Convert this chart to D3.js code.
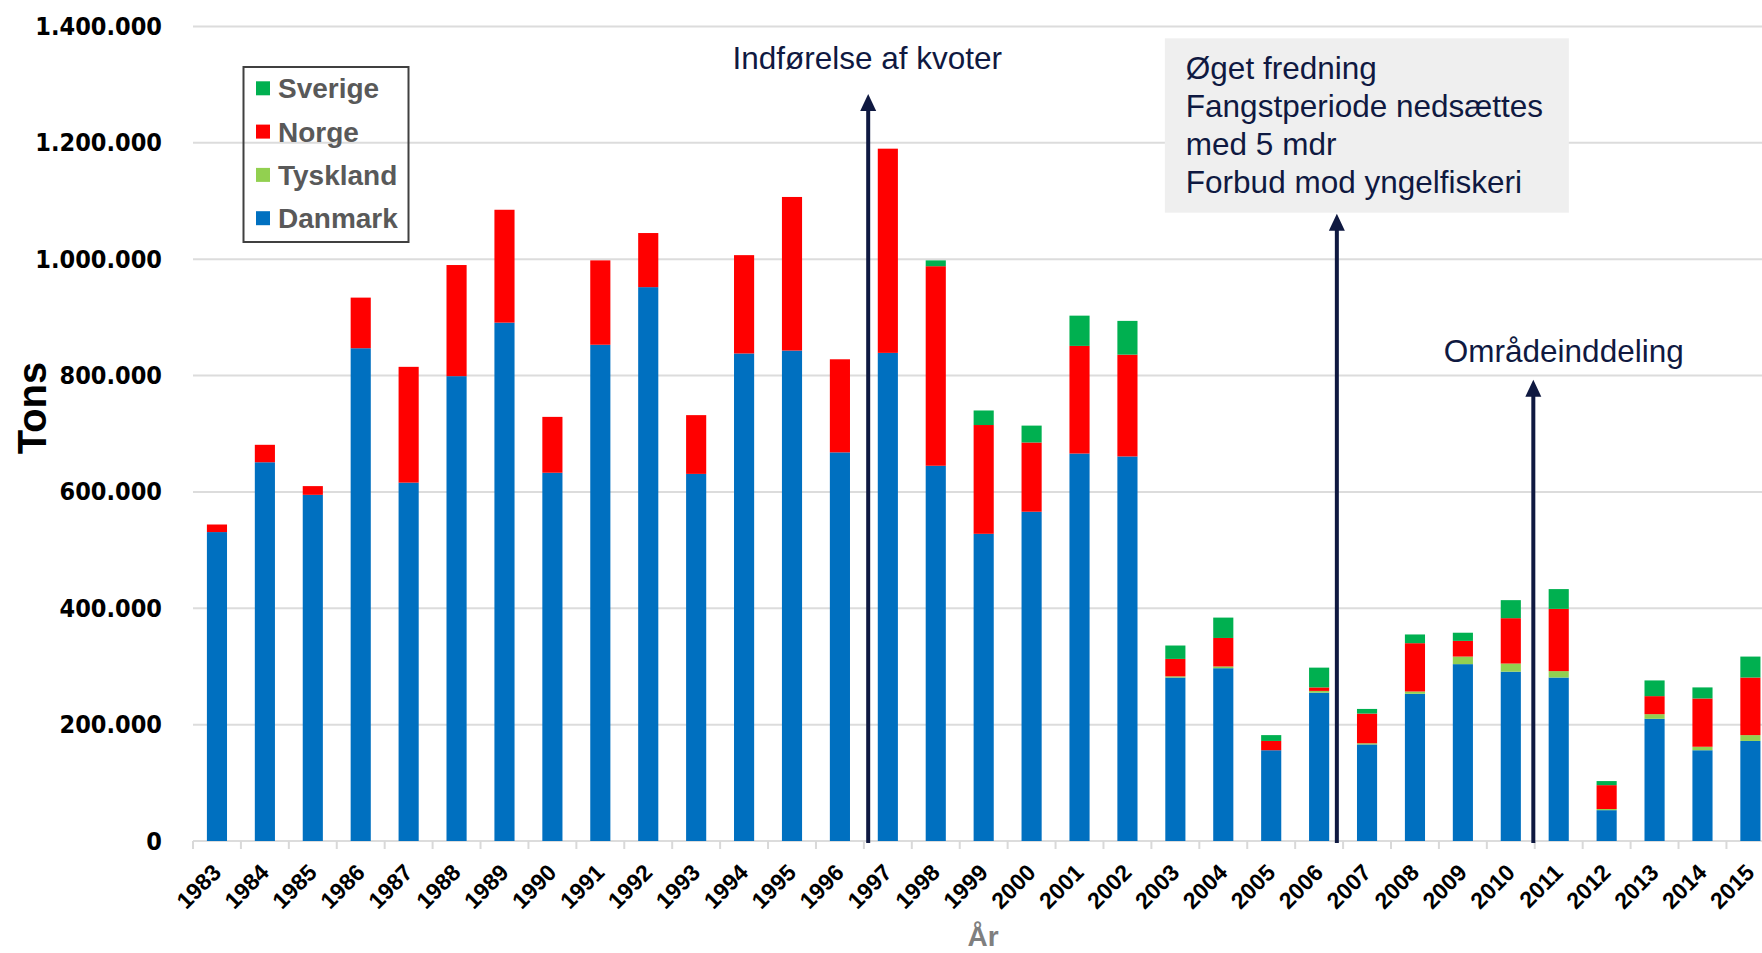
<!DOCTYPE html>
<html>
<head>
<meta charset="utf-8">
<script src="https://cdn.jsdelivr.net/npm/d3@7"></script>
<style>
  body { margin: 0; background: #fff; }
  svg { display: block; }
</style>
</head>
<body>
<svg id="chart" width="1762" height="953"></svg>
<script>
// fangst i tons pr. land og år
var years = ["1983","1984","1985","1986","1987","1988","1989","1990","1991","1992","1993",
             "1994","1995","1996","1997","1998","1999","2000","2001","2002","2003","2004",
             "2005","2006","2007","2008","2009","2010","2011","2012","2013","2014","2015"];
var danmark  = [531000,651000,595000,847000,616000,799000,891000,633000,853000,952000,631000,
                838000,843000,668000,839000,645000,528000,566000,666000,661000,281000,297000,
                156000,255000,166000,253000,304000,291000,281000,53000,210000,156000,172000];
var tyskland = [0,0,0,0,0,0,0,0,0,0,0,
                0,0,0,0,0,0,0,0,0,2000,3000,
                0,3000,2000,4000,13000,14000,11000,2000,8000,6000,10000];
var norge    = [13000,30000,15000,87000,199000,191000,194000,96000,145000,93000,101000,
                169000,264000,160000,351000,343000,187000,119000,185000,175000,30000,49000,
                16000,6000,51000,83000,27000,78000,107000,41000,31000,83000,99000];
var sverige  = [0,0,0,0,0,0,0,0,0,0,0,
                0,0,0,0,10000,25000,29000,52000,58000,23000,35000,
                10000,34000,8000,15000,14000,31000,34000,7000,27000,19000,36000];

var seriesNames  = ["Danmark", "Tyskland", "Norge", "Sverige"];
var seriesColors = ["#0070c0", "#92d050", "#ff0000", "#00b050"];
var yTicks = [0, 200000, 400000, 600000, 800000, 1000000, 1200000, 1400000];

// annotations: arrow position (fractional year), arrow tip (tons)
var arrowYears = [1996.59, 2006.37, 2010.47];
var arrowTips  = [1284000, 1078000, 793000];
var boxLines = ["Øget fredning", "Fangstperiode nedsættes", "med 5 mdr", "Forbud mod yngelfiskeri"];

var table = years.map(function(yr, i) {
  return { year: yr, Danmark: danmark[i], Tyskland: tyskland[i], Norge: norge[i], Sverige: sverige[i] };
});
var stacked = d3.stack().keys(seriesNames)(table);

var svg = d3.select("#chart");
var left = 193, step = 47.92;

var x = d3.scaleBand().domain(years)
  .range([left, left + years.length * step])
  .paddingInner(0.58).paddingOuter(0.29);
var y = d3.scaleLinear().domain([0, 1400000]).range([841, 26.5]);
var xPos = d3.scaleLinear().domain([1983, 2015])
  .range([x("1983") + x.bandwidth() / 2, x("2015") + x.bandwidth() / 2]);

var dk = d3.formatLocale({ decimal: ",", thousands: ".", grouping: [3], currency: ["", " kr"] });
var fmt = dk.format(",d");

// gridlines
svg.append("g").selectAll("line").data(yTicks).enter().append("line")
  .attr("x1", left).attr("x2", 1762)
  .attr("y1", function(d) { return y(d); }).attr("y2", function(d) { return y(d); })
  .attr("stroke", "#dcdcdc").attr("stroke-width", 2);

// tick marks between categories
svg.append("g").selectAll("line").data(years.concat(["end"])).enter().append("line")
  .attr("x1", function(d, i) { return left + i * x.step(); })
  .attr("x2", function(d, i) { return left + i * x.step(); })
  .attr("y1", y(0)).attr("y2", y(0) + 8)
  .attr("stroke", "#d9d9d9").attr("stroke-width", 2);

// bars
svg.append("g").selectAll("g").data(stacked).enter().append("g")
  .attr("fill", function(d, i) { return seriesColors[i]; })
  .selectAll("rect").data(function(d) { return d; }).enter().append("rect")
  .attr("x", function(d) { return x(d.data.year); })
  .attr("width", x.bandwidth())
  .attr("y", function(d) { return y(d[1]); })
  .attr("height", function(d) { return y(d[0]) - y(d[1]); });

// y axis
var yAxis = svg.append("g").attr("transform", "translate(" + left + ",0)")
  .call(d3.axisLeft(y).tickValues(yTicks).tickFormat(fmt).tickSize(0).tickPadding(31));
yAxis.select(".domain").remove();
yAxis.selectAll("text")
  .style("font-family", "'DejaVu Sans Condensed', 'DejaVu Sans', sans-serif")
  .style("font-weight", "bold")
  .style("font-size", "25px").attr("fill", "#000");

// x axis
var xAxis = svg.append("g").attr("transform", "translate(0," + y(0) + ")")
  .call(d3.axisBottom(x).tickSize(0));
xAxis.select(".domain").remove();
xAxis.selectAll("text")
  .attr("y", 0).attr("dy", 0)
  .attr("transform", "translate(5.5,33) rotate(-45)")
  .style("text-anchor", "end")
  .style("font-family", "'Liberation Sans', Arial, sans-serif")
  .style("font-weight", "bold")
  .style("font-size", "23px").attr("fill", "#000");

// axis titles
svg.append("text")
  .attr("transform", "translate(46,408) rotate(-90)")
  .attr("text-anchor", "middle")
  .style("font-family", "'Liberation Sans', Arial, sans-serif")
  .style("font-weight", "bold").style("font-size", "40px")
  .text("Tons");
svg.append("text")
  .attr("x", 983).attr("y", 946)
  .attr("text-anchor", "middle")
  .style("font-family", "'Liberation Sans', Arial, sans-serif")
  .style("font-weight", "bold").style("font-size", "28px")
  .attr("fill", "#7f7f7f")
  .text("År");

// legend
var legend = svg.append("g");
legend.append("rect")
  .attr("x", 243.5).attr("y", 67).attr("width", 165).attr("height", 175)
  .attr("fill", "none").attr("stroke", "#404040").attr("stroke-width", 2);
var legendItems = seriesNames.slice().reverse();
var legendColors = seriesColors.slice().reverse();
var li = legend.selectAll("g.item").data(legendItems).enter().append("g")
  .attr("transform", function(d, i) { return "translate(256," + (88.3 + i * 43.3) + ")"; });
li.append("rect").attr("x", 0).attr("y", -7).attr("width", 14).attr("height", 14)
  .attr("fill", function(d, i) { return legendColors[i]; });
li.append("text").attr("x", 22).attr("y", 10)
  .style("font-family", "'Liberation Sans', Arial, sans-serif")
  .style("font-weight", "bold").style("font-size", "28px")
  .attr("fill", "#595959")
  .text(function(d) { return d; });

// annotation arrows
var navy = "#0f1941";
var arrows = svg.append("g");
arrowYears.forEach(function(yr, i) {
  var ax = xPos(yr), tip = y(arrowTips[i]);
  arrows.append("line")
    .attr("x1", ax).attr("x2", ax)
    .attr("y1", tip + 14).attr("y2", y(0) + 2)
    .attr("stroke", navy).attr("stroke-width", 4);
  arrows.append("path")
    .attr("d", "M" + ax + "," + tip + " L" + (ax + 8) + "," + (tip + 17) + " L" + (ax - 8) + "," + (tip + 17) + " Z")
    .attr("fill", navy);
});

var annoFont = "'Liberation Sans', Arial, sans-serif";
svg.append("text")
  .attr("x", xPos(arrowYears[0]) - 1).attr("y", 69.3)
  .attr("text-anchor", "middle")
  .style("font-family", annoFont).style("font-size", "31.5px")
  .attr("fill", navy)
  .text("Indførelse af kvoter");

var bx = xPos(arrowYears[1]) - 172;
svg.append("rect")
  .attr("x", bx).attr("y", 38.3).attr("width", 404).attr("height", 174.4)
  .attr("fill", "#efefef");
svg.append("g").selectAll("text").data(boxLines).enter().append("text")
  .attr("x", bx + 21).attr("y", function(d, i) { return 79.3 + i * 38; })
  .style("font-family", annoFont).style("font-size", "31.5px")
  .attr("fill", navy)
  .text(function(d) { return d; });

svg.append("text")
  .attr("x", xPos(arrowYears[2]) - 89.5).attr("y", 361.7)
  .style("font-family", annoFont).style("font-size", "31.5px")
  .attr("fill", navy)
  .text("Områdeinddeling");
</script>
</body>
</html>
